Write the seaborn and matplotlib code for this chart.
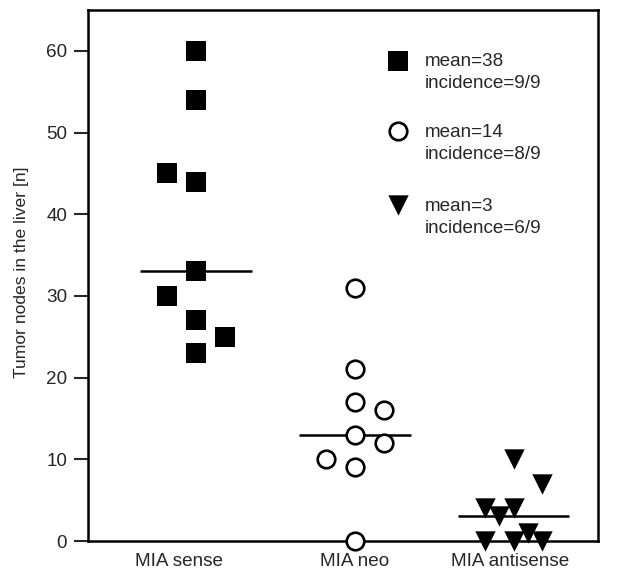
import numpy as np
import pandas as pd
import matplotlib
matplotlib.use("Agg")
import matplotlib.pyplot as plt
import seaborn as sns

sns.set_style("white")
plt.rcParams['font.family'] = ['Liberation Sans', 'DejaVu Sans']

# ---- data ----
categories = ["MIA sense", "MIA neo", "MIA antisense"]
sense_values = [60, 54, 45, 44, 33, 30, 27, 25, 23]
neo_values = [31, 21, 17, 16, 13, 12, 10, 9, 0]
antisense_values = [10, 7, 4, 4, 3, 1, 0, 0, 0]
legend_means = ["mean=38", "mean=14", "mean=3"]
legend_incidence = ["incidence=9/9", "incidence=8/9", "incidence=6/9"]
y_ticks = [0, 10, 20, 30, 40, 50, 60]

# layout: horizontal dodge slot of each point (in units of slot width)
sense_slots = [0, 0, -1, 0, 0, -1, 0, 1, 0]
neo_slots = [0, 0, 0, 1, 0, 1, -1, 0, 0]
antisense_slots = [0, 1, -1, 0, -0.5, 0.5, -1, 0, 1]
slot_w = 0.18
FS = 13.6

fig = plt.figure(figsize=(6.24, 5.78), dpi=100)
ax = fig.add_axes([88/624, 37/578, 510/624, 531/578])

groups = [
    (sense_values, sense_slots, dict(marker='s', s=205, color='black', edgecolor='black', linewidth=0)),
    (neo_values, neo_slots, dict(marker='o', s=160, color='white', edgecolor='black', linewidth=1.9)),
    (antisense_values, antisense_slots, dict(marker='v', s=215, color='black', edgecolor='black', linewidth=0)),
]

for i, (vals, slots, style) in enumerate(groups):
    df = pd.DataFrame({"x": i + np.array(slots) * slot_w, "y": vals})
    sns.scatterplot(data=df, x="x", y="y", ax=ax, clip_on=False, zorder=3, legend=False, **style)
    med = np.median(vals)
    ax.hlines(med, i - 0.35, i + 0.35, color='black', linewidth=1.8, zorder=2)

# legend-like annotation
mk_x, tx_x = 1.27, 1.44
leg_y = [58.8, 50.2, 41.1]
for (vals, slots, style), yy, m, inc in zip(groups, leg_y, legend_means, legend_incidence):
    st = dict(style)
    ax.scatter([mk_x], [yy], zorder=3, clip_on=False,
               **{('c' if k == 'color' else k): v for k, v in st.items()})
    ax.text(tx_x, yy - 0.7, m, fontsize=FS, va='baseline', ha='left')
    ax.text(tx_x, yy - 3.4, inc, fontsize=FS, va='baseline', ha='left')

ax.set_xlim(-0.68, 2.53)
ax.set_ylim(0, 65)
ax.set_yticks(y_ticks)
ax.set_yticklabels([str(t) for t in y_ticks], fontsize=FS)
ax.set_xticks([0 - 0.11, 1, 2 - 0.02])
ax.set_xticklabels(categories, fontsize=FS)
ax.tick_params(axis='y', direction='out', length=10, width=1.5, pad=5, left=True)
ax.tick_params(axis='x', length=0, pad=9)
ax.set_xlabel("")
ax.set_ylabel("Tumor nodes in the liver [n]", fontsize=12.6)
ax.yaxis.set_label_coords(-0.115, 0.506)
for sp in ax.spines.values():
    sp.set_visible(True)
    sp.set_color('black')
    sp.set_linewidth(1.8)

fig.savefig("out.png", dpi=100)
